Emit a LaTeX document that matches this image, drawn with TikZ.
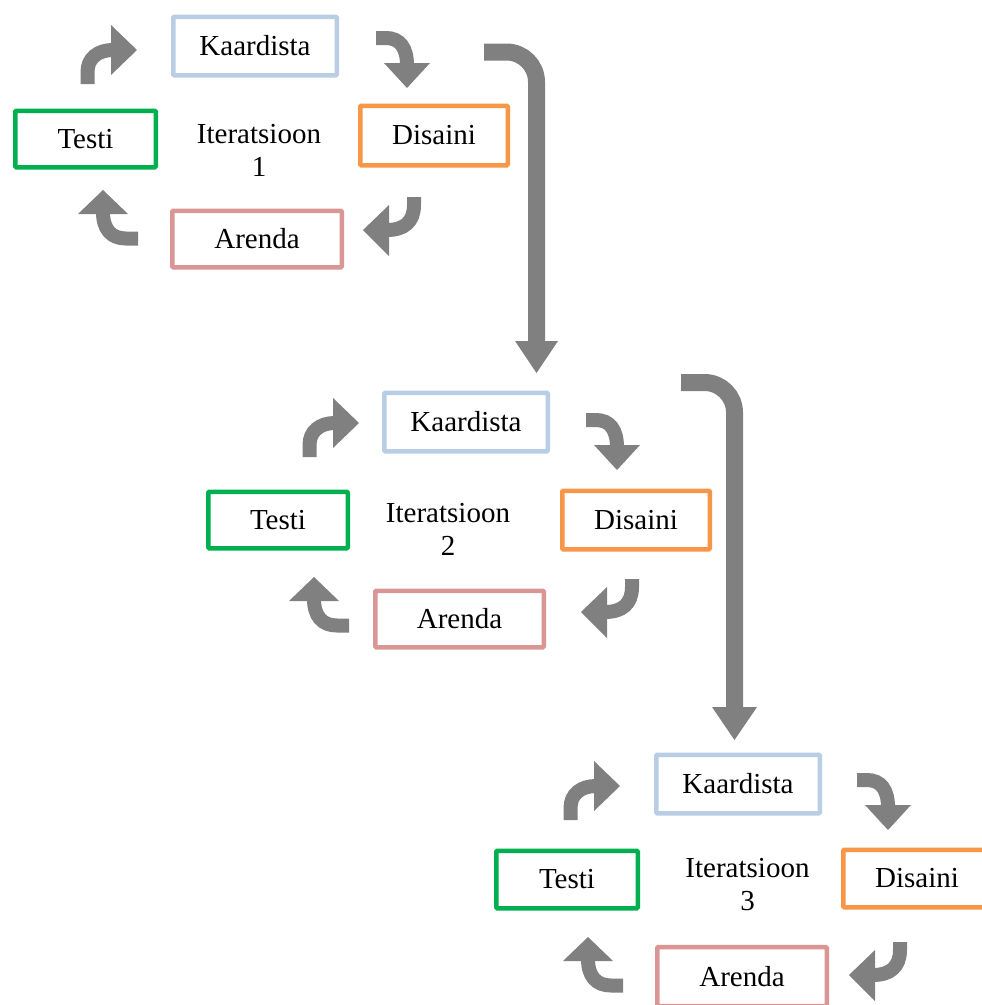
\documentclass[tikz,border=0pt]{standalone}
\usepackage{fontspec}
\setmainfont{Liberation Serif}
\definecolor{kblue}{HTML}{B9CDE5}
\definecolor{tgreen}{HTML}{00B050}
\definecolor{dorange}{HTML}{F79646}
\definecolor{apink}{HTML}{D99694}
\definecolor{agray}{HTML}{808080}
\tikzset{
  box/.style={draw, line width=4.5pt, fill=white, inner sep=0pt, rounded corners=1pt,
    font=\fontsize{29}{32}\selectfont},
  itlabel/.style={align=center, inner sep=0pt, font=\fontsize{29}{33}\selectfont},
  band/.style={draw=agray, line width=14pt, line cap=butt},
  bigband/.style={draw=agray, line width=17pt, line cap=butt, rounded corners=30pt},
  headfill/.style={fill=agray},
}
\newcommand{\arrTL}[1]{\begin{scope}[shift={#1}]
  \draw[band] (87.5,84) -- (87.5,72) .. controls (87.5,58) and (98,50) .. (113,50);
  \fill[headfill] (111,25) -- (137,50) -- (111,75) -- cycle;
\end{scope}}
\newcommand{\arrTR}[1]{\begin{scope}[shift={#1}]
  \draw[band] (376,38) -- (386,38) .. controls (400,38) and (407,48) .. (407,65);
  \fill[headfill] (384,63) -- (430,63) -- (407,88) -- cycle;
\end{scope}}
\newcommand{\arrBR}[1]{\begin{scope}[shift={#1}]
  \draw[band] (414,197) -- (414,205) .. controls (414,222) and (404,230) .. (387,230);
  \fill[headfill] (389,205) -- (389,256) -- (363,230) -- cycle;
\end{scope}}
\newcommand{\arrBL}[1]{\begin{scope}[shift={#1}]
  \draw[band] (138,238.5) -- (126,238.5) .. controls (111,238.5) and (103,229) .. (103,212);
  \fill[headfill] (78,214) -- (128,214) -- (103,190) -- cycle;
\end{scope}}
\begin{document}
\begin{tikzpicture}[x=1pt, y=-1pt]
\useasboundingbox (0,0) rectangle (982,1005);
\clip (0,0) rectangle (982,1005);

% Iteration 1
\node[box, draw=kblue, minimum width=163.5pt, minimum height=58.5pt] (k1) at (255,46) {Kaardista};
\node[box, draw=tgreen, minimum width=140.5pt, minimum height=56.5pt] (t1) at (85.5,139) {Testi};
\node[box, draw=dorange, minimum width=147.5pt, minimum height=59.5pt] (d1) at (434,135.5) {Disaini};
\node[box, draw=apink, minimum width=169.5pt, minimum height=56.5pt] (a1) at (257,239) {Arenda};
\node[itlabel] (i1) at (259,150) {Iteratsioon\\1};
\arrTL{(0,0)}
\arrTR{(0,0)}
\arrBR{(0,0)}
\arrBL{(0,0)}

% Iteration 2
\node[box, draw=kblue, minimum width=163.5pt, minimum height=58.5pt] (k2) at (466,422) {Kaardista};
\node[box, draw=tgreen, minimum width=139.5pt, minimum height=56.5pt] (t2) at (278,520) {Testi};
\node[box, draw=dorange, minimum width=147.5pt, minimum height=58.5pt] (d2) at (636,520) {Disaini};
\node[box, draw=apink, minimum width=168.5pt, minimum height=56.5pt] (a2) at (459.5,619) {Arenda};
\node[itlabel] (i2) at (448,529) {Iteratsioon\\2};
\arrTL{(222,373)}
\arrTR{(210,382)}
\arrBR{(218,382)}
\arrBL{(211,387)}

% Iteration 3
\node[box, draw=kblue, minimum width=163.5pt, minimum height=58.5pt] (k3) at (738,784) {Kaardista};
\node[box, draw=tgreen, minimum width=141.5pt, minimum height=57.5pt] (t3) at (567,879.5) {Testi};
\node[box, draw=dorange, minimum width=147.5pt, minimum height=57.5pt] (d3) at (917,878.5) {Disaini};
\node[box, draw=apink, minimum width=169.5pt, minimum height=59pt] (a3) at (742,976.5) {Arenda};
\node[itlabel] (i3) at (747.5,885) {Iteratsioon\\3};
\arrTL{(483,736)}
\arrTR{(481,742)}
\arrBR{(486,745)}
\arrBL{(485,747)}

% Big connecting arrows
\coordinate (b1s) at (484,52);
\coordinate (b1e) at (536.5,343);
\draw[bigband] (b1s) -| (b1e);
\fill[headfill] (515,341) -- (558,341) -- (536.5,373) -- cycle;
\coordinate (b2s) at (681,382.5);
\coordinate (b2e) at (734.5,709);
\draw[bigband] (b2s) -| (b2e);
\fill[headfill] (712,707) -- (757,707) -- (734.5,740) -- cycle;
\end{tikzpicture}
\end{document}
